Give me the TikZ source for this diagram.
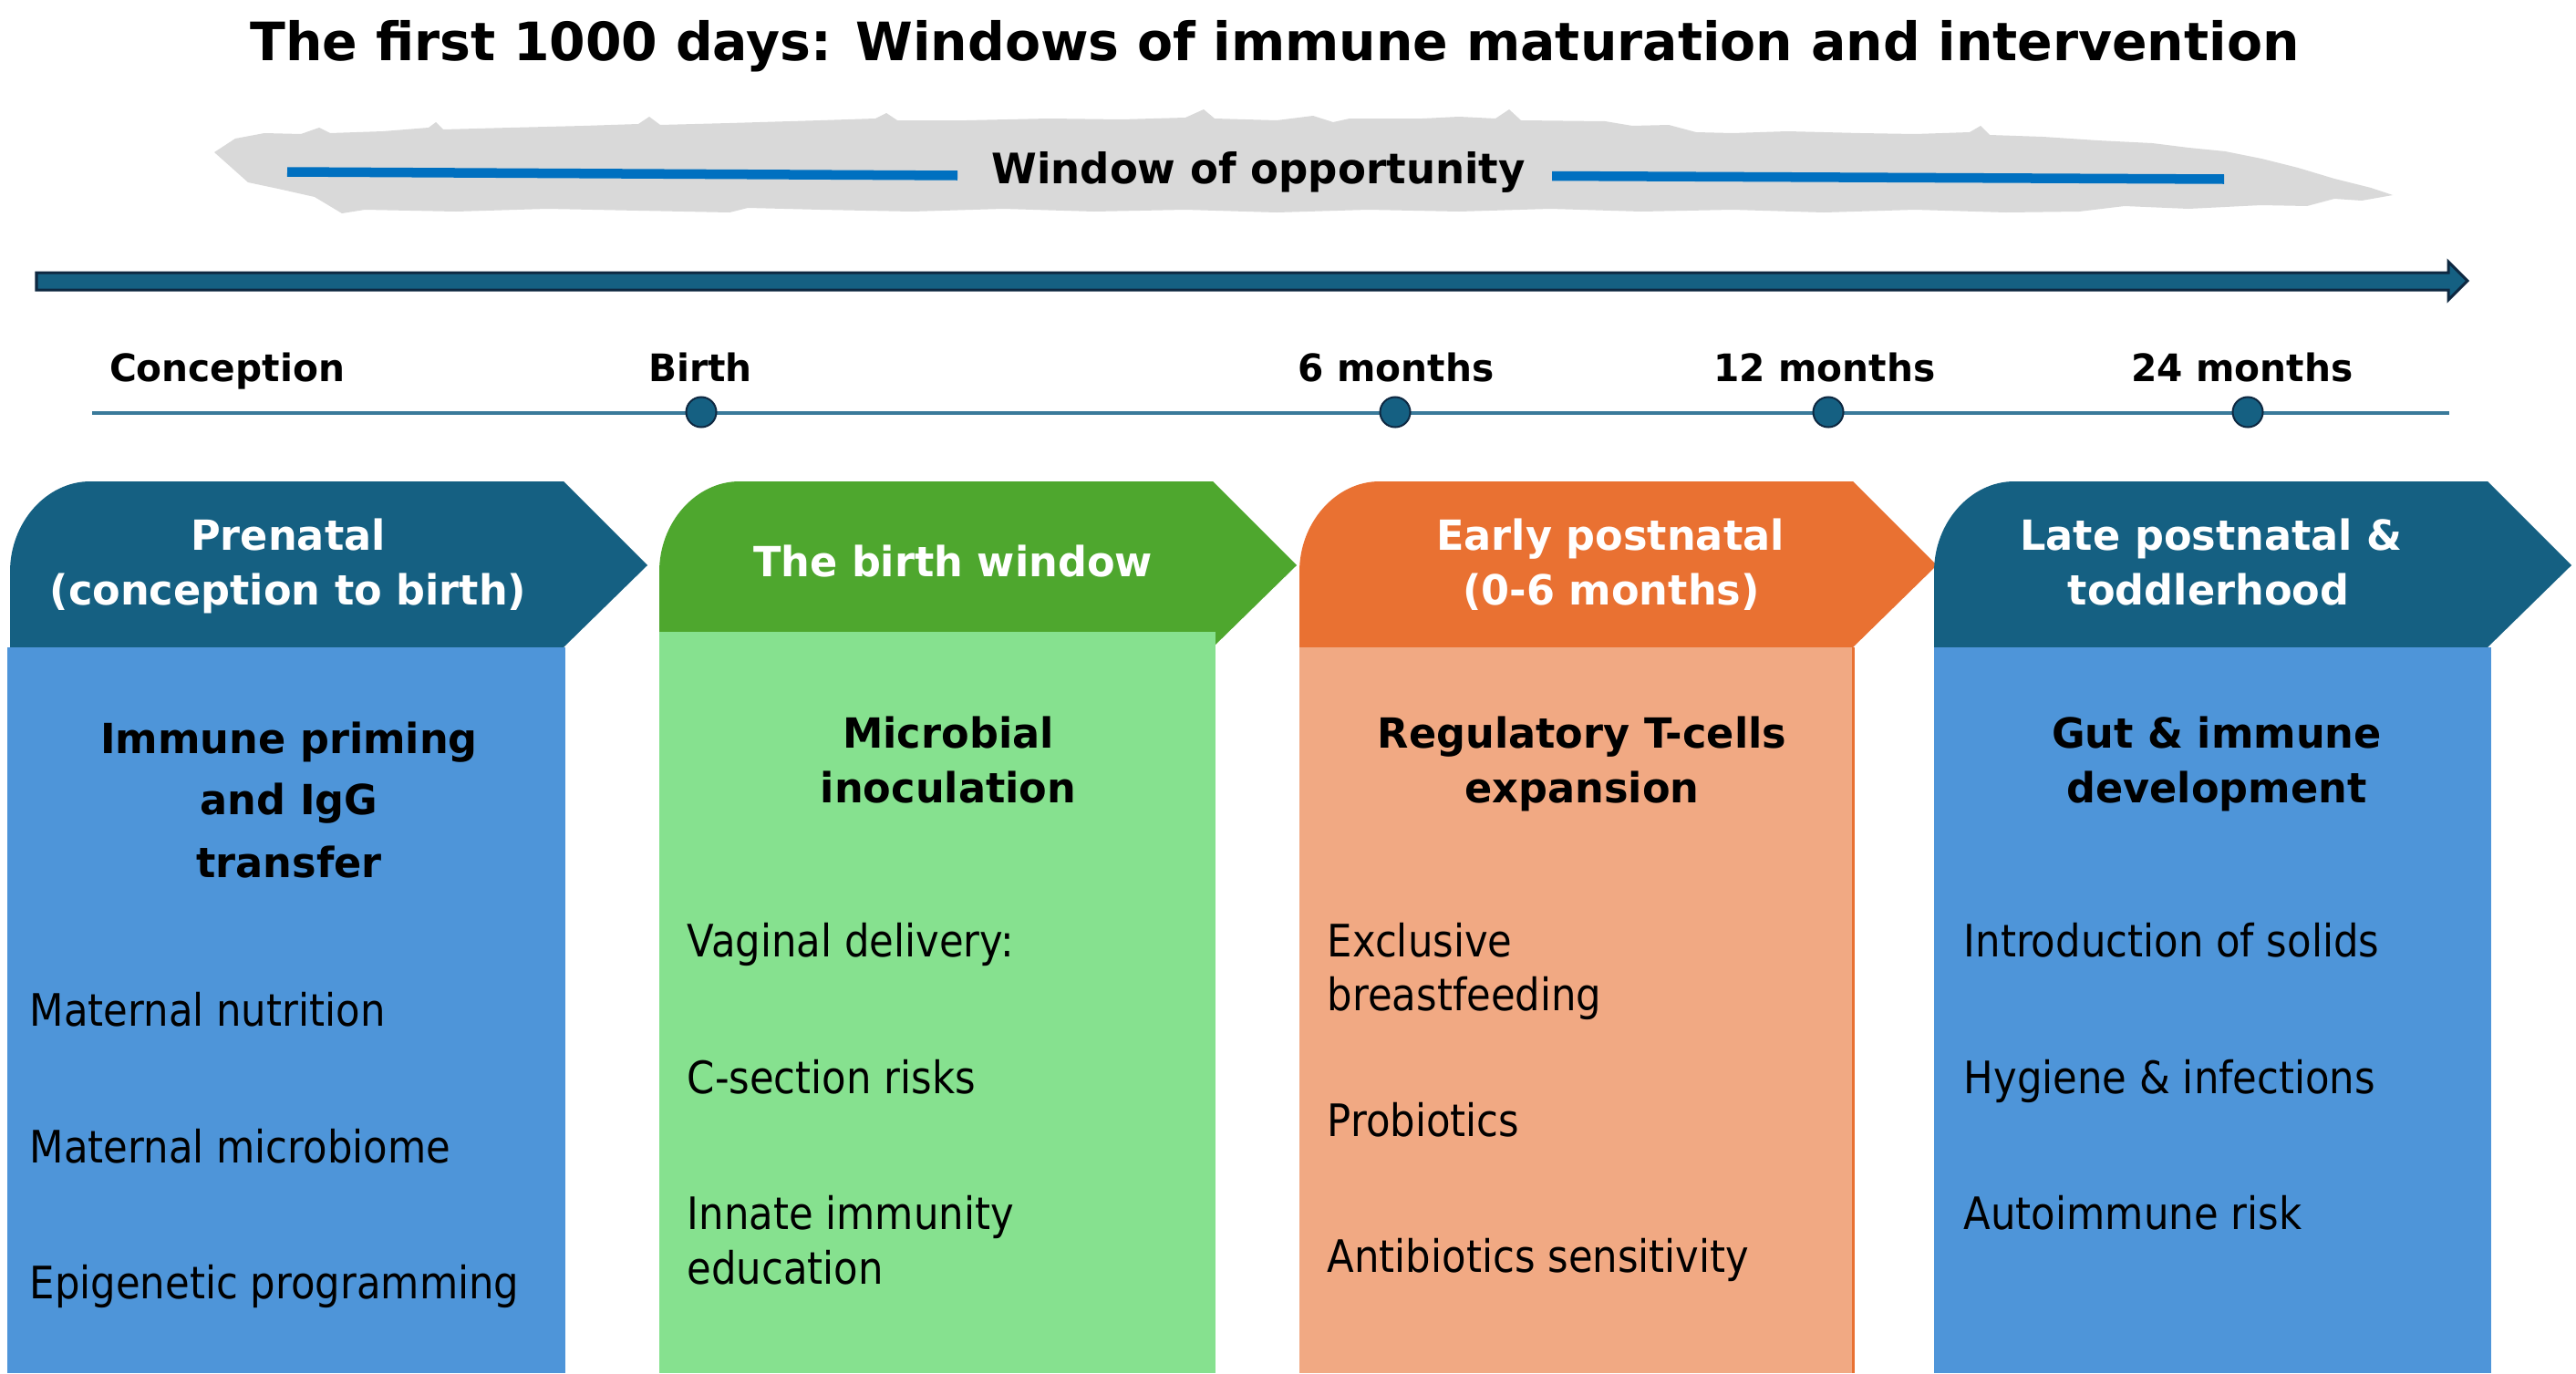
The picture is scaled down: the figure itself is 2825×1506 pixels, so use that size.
\documentclass[tikz,border=0pt]{standalone}
\usepackage{fontspec}
\setmainfont{DejaVu Sans}[FakeStretch=0.885]
\newfontfamily\bfam{DejaVu Sans}[FakeStretch=0.98]
\newcommand\fpx[1]{\fontsize{\fpeval{#1*0.28453}pt}{\fpeval{#1*0.3414}pt}\selectfont}
\definecolor{hdblue}{HTML}{156082}
\definecolor{hdgreen}{HTML}{4EA72E}
\definecolor{hdorange}{HTML}{E97132}
\definecolor{bdblue}{HTML}{4E95D9}
\definecolor{bdgreen}{HTML}{86E18F}
\definecolor{bdorange}{HTML}{F1A983}
\definecolor{navy}{HTML}{0E2841}
\definecolor{brushgray}{HTML}{D9D9D9}
\definecolor{oppblue}{HTML}{0070C0}
\definecolor{tlblue}{HTML}{3A7A9A}
\newcommand\hdrshape[2]{%
  \fill[#2] (#1,710) -- (#1,627) .. controls (#1,573) and ({#1+40},528) .. ({#1+88},528)
    -- ({#1+607},528) -- ({#1+699},620) -- ({#1+607},710) -- cycle;}
\begin{document}
\begin{tikzpicture}[x=0.01cm,y=-0.01cm,
  ttl/.style={font=\bfam\bfseries\fpx{58}, anchor=base, inner sep=0},
  opp/.style={font=\bfam\bfseries\fpx{46}, anchor=base, inner sep=0},
  tick/.style={font=\bfam\bfseries\fpx{41.5}, anchor=base, inner sep=0},
  hdtxt/.style={font=\bfam\bfseries\fpx{45.5}, anchor=base, inner sep=0, text=white},
  sec/.style={font=\bfam\bfseries\fpx{45.5}, anchor=base, inner sep=0},
  item/.style={font=\fpx{49}, anchor=base west, inner sep=0},
  dot/.style={circle, fill=hdblue, draw=navy, line width=0.02cm, minimum size=0.33cm, inner sep=0},
]
\useasboundingbox (0,0) rectangle (2825,1506);
\fill[white] (0,0) rectangle (2825,1506);

% title
\node[ttl] (title) at (1398,66) {The first 1000 days: Windows of immune maturation and intervention};

% brush stroke
\fill[brushgray] (235,167) -- (258,152) -- (290,146) -- (330,147) -- (350,140) -- (362,146) -- (420,144)
  -- (470,140) -- (478,134) -- (486,142) -- (560,140) -- (640,138) -- (700,136) -- (712,128) -- (724,137)
  -- (800,135) -- (900,132) -- (960,130) -- (972,124) -- (984,132) -- (1060,132) -- (1150,130) -- (1230,131)
  -- (1300,129) -- (1320,120) -- (1332,130) -- (1400,132) -- (1440,127) -- (1462,134) -- (1480,130) -- (1560,130)
  -- (1600,128) -- (1640,130) -- (1655,120) -- (1668,132) -- (1760,133) -- (1790,138) -- (1830,137)
  -- (1860,145) -- (1900,146) -- (1960,144) -- (2040,146) -- (2100,147) -- (2160,145) -- (2172,138) -- (2182,148)
  -- (2240,150) -- (2300,154) -- (2360,157) -- (2400,162) -- (2440,166) -- (2480,174) -- (2520,184)
  -- (2560,196) -- (2600,206) -- (2624,214)
  -- (2590,220) -- (2560,218) -- (2530,226) -- (2480,225) -- (2400,229) -- (2330,226) -- (2280,232)
  -- (2200,233) -- (2100,230) -- (2000,233) -- (1900,230) -- (1800,232) -- (1700,229) -- (1600,232)
  -- (1500,230) -- (1400,233) -- (1300,230) -- (1200,232) -- (1100,229) -- (1000,232) -- (900,230)
  -- (820,228) -- (800,233) -- (700,231) -- (600,229) -- (500,232) -- (400,230) -- (375,234)
  -- (345,216) -- (305,207) -- (272,200) -- cycle;
\coordinate (oppL1) at (315,188.5);
\coordinate (oppL2) at (1050,192.5);
\coordinate (oppR1) at (1702,193);
\coordinate (oppR2) at (2439,196.5);
\draw[oppblue, line width=0.105cm] (oppL1) -- (oppL2);
\draw[oppblue, line width=0.105cm] (oppR1) -- (oppR2);
\node[opp] (opp) at (1380,201) {Window of opportunity};

% main arrow
\fill[hdblue, draw=navy, line width=0.03cm] (40,299) -- (2685,299) -- (2685,287) -- (2706,308)
  -- (2685,329) -- (2685,318) -- (40,318) -- cycle;

% timeline
\coordinate (tlA) at (101,453);
\coordinate (tlB) at (2686,453);
\draw[tlblue, line width=0.04cm] (tlA) -- (tlB);
\node[dot] (m1) at (769,452) {};
\node[dot] (m2) at (1530,452) {};
\node[dot] (m3) at (2005,452) {};
\node[dot] (m4) at (2465,452) {};
\node[tick] (t0) at (249,418) {Conception};
\node[tick] (t1) at (768,418) {Birth};
\node[tick] (t2) at (1531,418) {6 months};
\node[tick] (t3) at (2001,418) {12 months};
\node[tick] (t4) at (2459,418) {24 months};

% headers
\hdrshape{11}{hdblue}
\hdrshape{723}{hdgreen}
\hdrshape{1425}{hdorange}
\hdrshape{2121}{hdblue}

% bodies
\fill[bdblue] (8,710) rectangle (620,1506);
\fill[bdgreen] (723,693) rectangle (1333,1506);
\fill[bdorange] (1425,710) rectangle (2034,1506);
\draw[hdorange, line width=0.03cm] (2032,710) -- (2032,1506);
\fill[bdblue] (2121,710) rectangle (2732,1506);

% header texts
\node[hdtxt] (h1a) at (316,603) {Prenatal};
\node[hdtxt] (h1b) at (316,663) {(conception to birth)};
\node[hdtxt] (h2a) at (1045,632) {The birth window};
\node[hdtxt] (h3a) at (1766,603) {Early postnatal};
\node[hdtxt] (h3b) at (1767,663) {(0-6 months)};
\node[hdtxt] (h4a) at (2425,603) {Late postnatal \&};
\node[hdtxt] (h4b) at (2422,663) {toddlerhood};

% section titles
\node[sec] (s1a) at (317,826) {Immune priming};
\node[sec] (s1b) at (317,893) {and IgG};
\node[sec] (s1c) at (317,962) {transfer};
\node[sec] (s2a) at (1040,820) {Microbial};
\node[sec] (s2b) at (1040,880) {inoculation};
\node[sec] (s3a) at (1735,820) {Regulatory T-cells};
\node[sec] (s3b) at (1735,880) {expansion};
\node[sec] (s4a) at (2431,820) {Gut \& immune};
\node[sec] (s4b) at (2431,880) {development};

% items
\node[item] (i1a) at (32,1125) {Maternal nutrition};
\node[item] (i1b) at (32,1275) {Maternal microbiome};
\node[item] (i1c) at (32,1424) {Epigenetic programming};
\node[item] (i2a) at (753,1049) {Vaginal delivery:};
\node[item] (i2b) at (753,1199) {C-section risks};
\node[item] (i2c) at (753,1348) {Innate immunity};
\node[item] (i2d) at (753,1408) {education};
\node[item] (i3a) at (1455,1049) {Exclusive};
\node[item] (i3b) at (1455,1108) {breastfeeding};
\node[item] (i3c) at (1455,1246) {Probiotics};
\node[item] (i3d) at (1455,1395) {Antibiotics sensitivity};
\node[item] (i4a) at (2153,1049) {Introduction of solids};
\node[item] (i4b) at (2153,1199) {Hygiene \& infections};
\node[item] (i4c) at (2153,1348) {Autoimmune risk};
\end{tikzpicture}
\end{document}
